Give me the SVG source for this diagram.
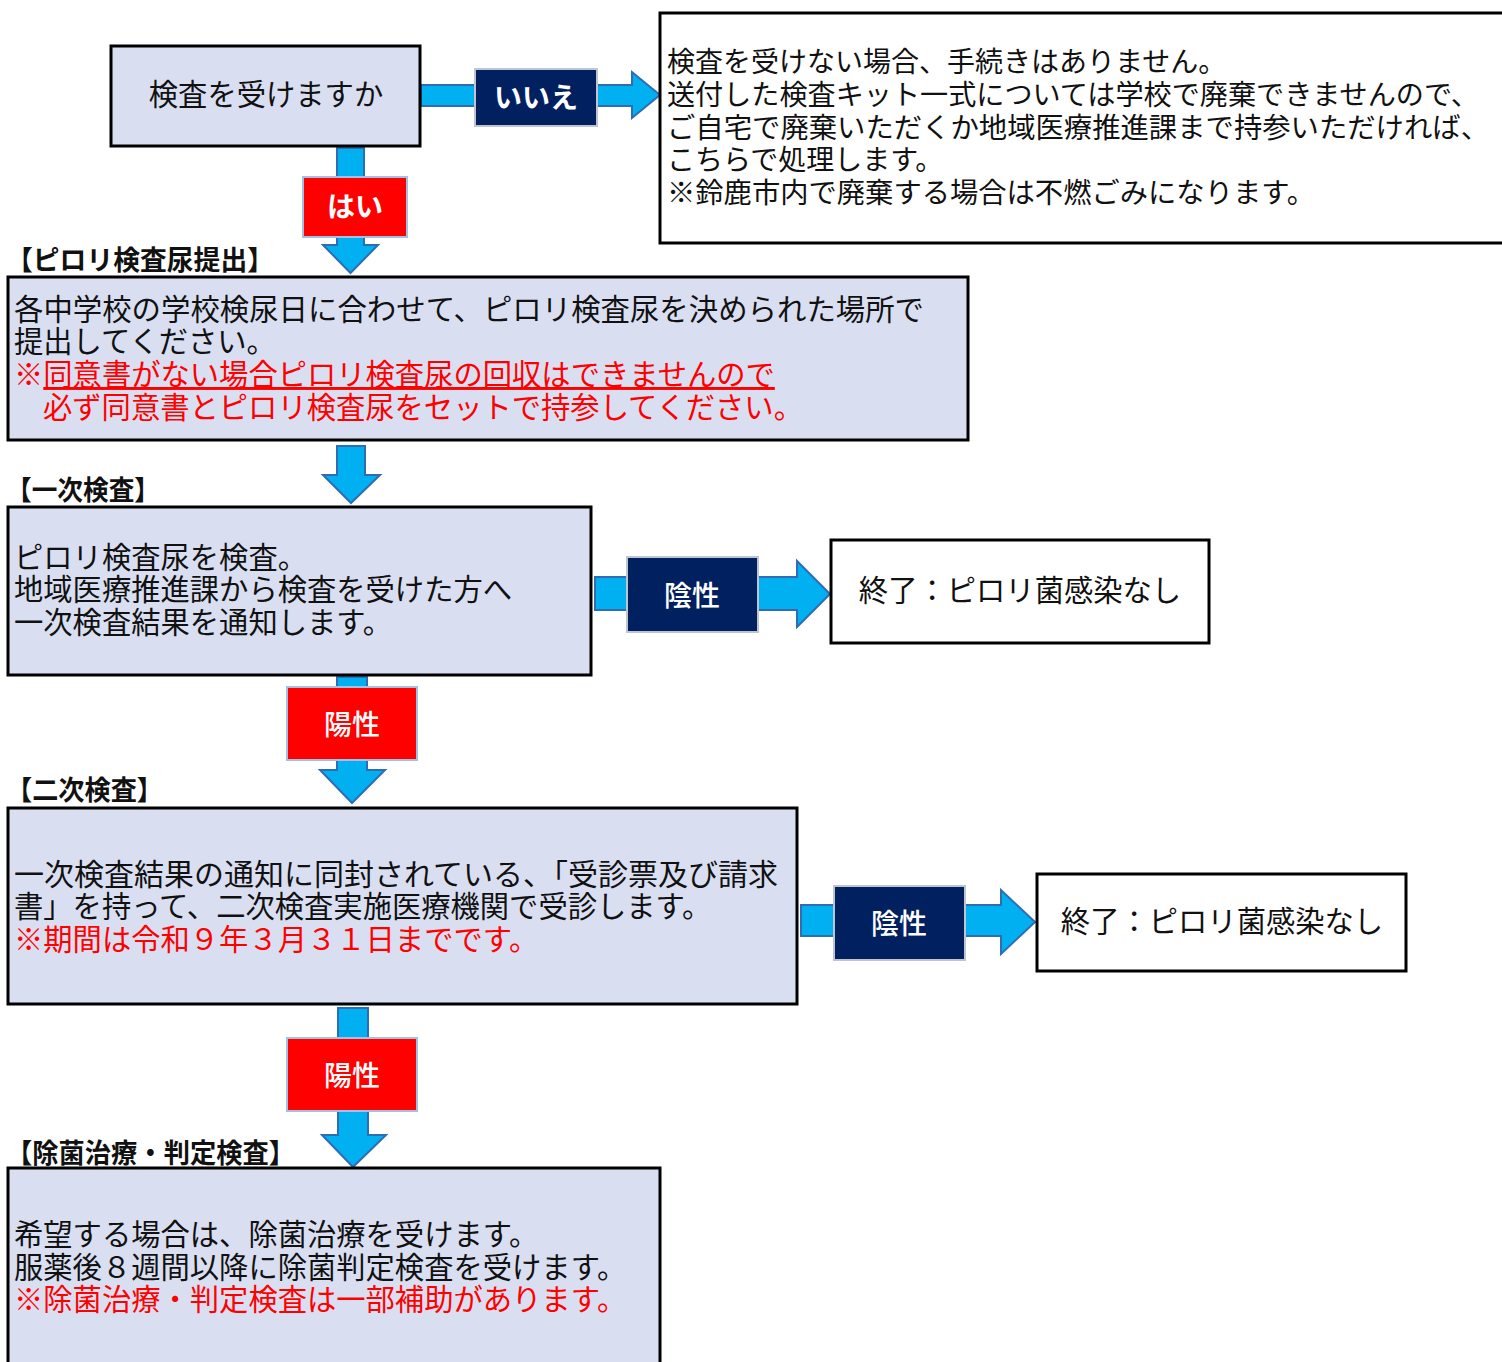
<svg xmlns="http://www.w3.org/2000/svg" width="1502" height="1362" viewBox="0 0 1502 1362">
<style>
.box{fill:#D9DFF1;stroke:#000;stroke-width:3}
.wbox{fill:#fff;stroke:#000;stroke-width:3}
.arr{fill:#00B0F0;stroke:#2E6DB4;stroke-width:2;stroke-linejoin:miter}
.neg{fill:#002060;stroke:#BFC5D0;stroke-width:2}
.pos{fill:#FF0000;stroke:#9DC3E6;stroke-width:2}
text{font-family:"Noto Sans CJK JP","Noto Sans",sans-serif}
.t{font-size:29.3px;fill:#111}
.tr{font-size:28px;fill:#111}
.red{fill:#FF0000}
.lbl{font-size:27px;font-weight:bold;fill:#111}
.wt{font-size:28px;font-weight:bold;fill:#fff}
.wm{font-size:28px;font-weight:500;fill:#fff}
</style>
<rect width="1502" height="1362" fill="#fff"/>
<g id="connectors">
  <path class="arr" d="M421,85 H632 V72 L660,95 L632,118 V106 H421 Z"/>
  <path class="arr" d="M337,148 H364 V245 H378 L350.5,273 L323,245 H337 Z"/>
  <path class="arr" d="M337,446 H365 V475 H380 L351,503 L323,475 H337 Z"/>
  <path class="arr" d="M595,577 H797 V561 L830,594 L797,627 V610 H595 Z"/>
  <path class="arr" d="M337,677 H367 V770 H385 L352,803 L320,770 H337 Z"/>
  <path class="arr" d="M801,905 H1001 V890 L1035,922 L1001,954 V936 H801 Z"/>
  <path class="arr" d="M338,1008 H368 V1135 H386 L353,1167 L322,1135 H338 Z"/>
</g>
<g id="label-iie"><rect class="neg" x="475" y="69" width="122" height="57" stroke="none"/><text class="wt" x="536" y="108" text-anchor="middle">いいえ</text></g>
<g id="label-hai"><rect class="pos" x="303" y="177" width="104" height="60"/><text class="wt" x="355" y="217" text-anchor="middle">はい</text></g>
<g id="label-neg1"><rect class="neg" x="627" y="557" width="131" height="75"/><text class="wm" x="692" y="606" text-anchor="middle">陰性</text></g>
<g id="label-pos1"><rect class="pos" x="287" y="687" width="130" height="73"/><text class="wm" x="352" y="735" text-anchor="middle">陽性</text></g>
<g id="label-neg2"><rect class="neg" x="834" y="886" width="131" height="74"/><text class="wm" x="899" y="934" text-anchor="middle">陰性</text></g>
<g id="label-pos2"><rect class="pos" x="287" y="1038" width="130" height="73"/><text class="wm" x="352" y="1086" text-anchor="middle">陽性</text></g>

<g id="node-q">
  <rect class="box" x="111" y="46" width="309" height="100"/>
  <text class="t" x="266" y="105" text-anchor="middle">検査を受けますか</text>
</g>
<g id="node-no">
  <rect class="wbox" x="660" y="13" width="850" height="230"/>
  <text class="tr" x="667" y="72">検査を受けない場合、手続きはありません。</text>
  <text class="tr" x="667" y="105" textLength="812" lengthAdjust="spacingAndGlyphs">送付した検査キット一式については学校で廃棄できませんので、</text>
  <text class="tr" x="667" y="138" textLength="822" lengthAdjust="spacingAndGlyphs">ご自宅で廃棄いただくか地域医療推進課まで持参いただければ、</text>
  <text class="tr" x="667" y="170">こちらで処理します。</text>
  <text class="tr" x="667" y="203" textLength="648" lengthAdjust="spacingAndGlyphs">※鈴鹿市内で廃棄する場合は不燃ごみになります。</text>
</g>
<g id="node-submit">
  <text class="lbl" x="6" y="270" textLength="268" lengthAdjust="spacingAndGlyphs">【ピロリ検査尿提出】</text>
  <rect class="box" x="8" y="277" width="960" height="163"/>
  <text class="t" x="14" y="320" textLength="910" lengthAdjust="spacingAndGlyphs">各中学校の学校検尿日に合わせて、ピロリ検査尿を決められた場所で</text>
  <text class="t" x="14" y="352">提出してください。</text>
  <text class="t red" x="14" y="385">※<tspan text-decoration="underline">同意書がない場合ピロリ検査尿の回収はできませんので</tspan></text>
  <text class="t red" x="43" y="418">必ず同意書とピロリ検査尿をセットで持参してください。</text>
</g>
<g id="node-first">
  <text class="lbl" x="6" y="500" textLength="154" lengthAdjust="spacingAndGlyphs">【一次検査】</text>
  <rect class="box" x="8" y="507" width="583" height="168"/>
  <text class="t" x="14" y="568">ピロリ検査尿を検査。</text>
  <text class="t" x="14" y="600">地域医療推進課から検査を受けた方へ</text>
  <text class="t" x="14" y="633">一次検査結果を通知します。</text>
</g>
<g id="node-end1">
  <rect class="wbox" x="831" y="540" width="378" height="103"/>
  <text class="t" x="1020" y="601" text-anchor="middle">終了：ピロリ菌感染なし</text>
</g>
<g id="node-second">
  <text class="lbl" x="6" y="800" textLength="157" lengthAdjust="spacingAndGlyphs">【二次検査】</text>
  <rect class="box" x="8" y="808" width="789" height="196"/>
  <text class="t" x="14" y="885" textLength="764" lengthAdjust="spacingAndGlyphs">一次検査結果の通知に同封されている、「受診票及び請求</text>
  <text class="t" x="14" y="917">書」を持って、二次検査実施医療機関で受診します。</text>
  <text class="t red" x="14" y="950">※期間は令和９年３月３１日までです。</text>
</g>
<g id="node-end2">
  <rect class="wbox" x="1037" y="874" width="369" height="97"/>
  <text class="t" x="1222" y="932" text-anchor="middle">終了：ピロリ菌感染なし</text>
</g>
<g id="node-treat">
  <text class="lbl" x="6" y="1163" textLength="289" lengthAdjust="spacingAndGlyphs">【除菌治療・判定検査】</text>
  <rect class="box" x="8" y="1168" width="652" height="210"/>
  <text class="t" x="14" y="1245">希望する場合は、除菌治療を受けます。</text>
  <text class="t" x="14" y="1278">服薬後８週間以降に除菌判定検査を受けます。</text>
  <text class="t red" x="14" y="1310">※除菌治療・判定検査は一部補助があります。</text>
</g>
</svg>
